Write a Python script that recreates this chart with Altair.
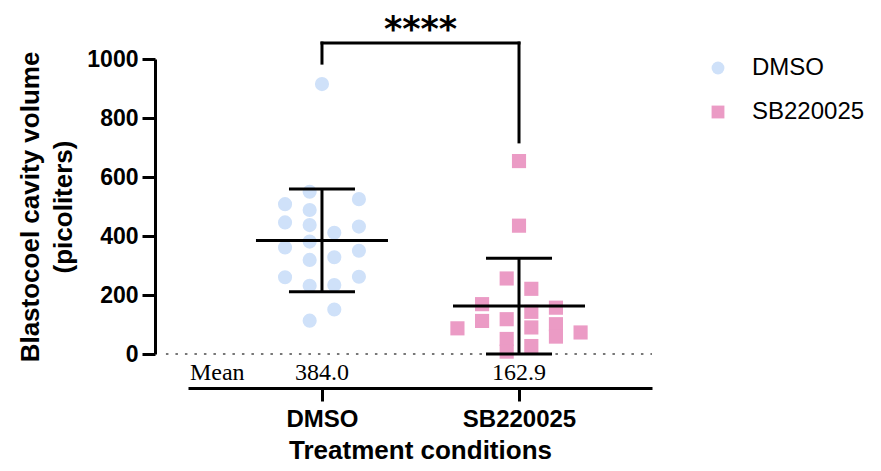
import altair as alt
import pandas as pd

# ---------------- data ----------------
groups = ["DMSO", "SB220025"]
group_pos = [1, 2]
dmso_values = [915, 508, 446, 361, 260, 550, 488, 437, 381, 319, 231, 113,
               411, 328, 234, 151, 525, 432, 350, 262]
dmso_slots = [0, -1.5, -1.5, -1.5, -1.5, -0.5, -0.5, -0.5, -0.5, -0.5, -0.5, -0.5,
              0.5, 0.5, 0.5, 0.5, 1.5, 1.5, 1.5, 1.5]
sb_values = [654, 435, 256, 118, 51, 8, 221, 143, 90, 27, 169, 112, 87,
             157, 101, 59, 73]
sb_slots = [0, 0, -0.5, -0.5, -0.5, -0.5, 0.5, 0.5, 0.5, 0.5, -1.5, -1.5, -2.5,
            1.5, 1.5, 1.5, 2.5]
mean_labels = ["384.0", "162.9"]
y_ticks = [0, 200, 400, 600, 800, 1000]
signif_label = "****"
y_title = ["Blastocoel cavity volume", "(picoliters)"]
x_title = "Treatment conditions"
colors = ["#cfe1f9", "#eb9bc5"]
shapes = ["circle", "square"]

# ---------------- layout constants ----------------
SLOT = 0.125           # beeswarm column spacing (x units)
X_DOM = [0.32, 2.675]
Y_DOM = [0, 1000]
SANS = "Liberation Sans"
SERIF = "Liberation Serif"

rows = []
for vals, slots, g, gx in [(dmso_values, dmso_slots, groups[0], group_pos[0]),
                           (sb_values, sb_slots, groups[1], group_pos[1])]:
    for v, s in zip(vals, slots):
        rows.append({"group": g, "gx": gx, "xpos": gx + s * SLOT, "value": v})
df = pd.DataFrame(rows)

xs = alt.Scale(domain=X_DOM, nice=False, zero=False)
ys = alt.Scale(domain=Y_DOM, nice=False, zero=False)

label_expr = " : ".join(
    [f"datum.value == {p} ? '{g}'" for p, g in zip(group_pos[:-1], groups[:-1])]
    + [f"'{groups[-1]}'"])

xaxis = alt.Axis(values=group_pos, labelExpr=label_expr, offset=34, grid=False,
                 domainColor="black", domainWidth=3, tickColor="black", tickWidth=3,
                 tickSize=13, labelFont=SANS, labelFontSize=24, labelFontWeight="bold",
                 labelColor="black", labelPadding=6, labelAngle=0,
                 titleFont=SANS, titleFontSize=26, titleFontWeight="bold",
                 titleColor="black", titlePadding=6)
yaxis = alt.Axis(values=y_ticks, format="d", offset=33, grid=False,
                 domainColor="black", domainWidth=3, tickColor="black", tickWidth=3,
                 tickSize=13, labelFont=SANS, labelFontSize=23, labelFontWeight="bold",
                 labelColor="black", labelPadding=4,
                 titleFont=SANS, titleFontSize=26, titleFontWeight="bold",
                 titleColor="black", titlePadding=10, titleLineHeight=33)


def X(field):
    return alt.X(field, scale=xs, axis=xaxis, title=x_title)


def Y(field):
    return alt.Y(field, scale=ys, axis=yaxis, title=y_title)


legend = alt.Legend(title=None, orient="none", legendX=518, legendY=-3,
                    labelFont=SANS, labelFontSize=24, labelColor="black",
                    symbolSize=165, symbolStrokeWidth=0, rowPadding=20,
                    labelOffset=22)

points = alt.Chart(df).mark_point(filled=True, opacity=1, size=200).encode(
    x=X("xpos:Q"),
    y=Y("value:Q"),
    color=alt.Color("group:N", scale=alt.Scale(domain=groups, range=colors), legend=legend),
    shape=alt.Shape("group:N", scale=alt.Scale(domain=groups, range=shapes), legend=legend),
)

stats = alt.Chart(df).transform_aggregate(
    mean="mean(value)", sd="stdev(value)", groupby=["group", "gx"]
).transform_calculate(
    lo="datum.mean - datum.sd", hi="datum.mean + datum.sd",
    cap_l="datum.gx - 0.1675", cap_r="datum.gx + 0.1675",
    m_l="datum.gx - 0.335", m_r="datum.gx + 0.335",
)

vbar = stats.mark_rule(color="black", strokeWidth=3).encode(
    x=X("gx:Q"), y=Y("lo:Q"), y2="hi:Q")
caps = stats.transform_fold(["lo", "hi"], as_=["which", "yv"]).mark_rule(
    color="black", strokeWidth=3).encode(x=X("cap_l:Q"), x2="cap_r:Q", y=Y("yv:Q"))
mline = stats.mark_rule(color="black", strokeWidth=3).encode(
    x=X("m_l:Q"), x2="m_r:Q", y=Y("mean:Q"))

# dotted zero line
zero_df = pd.DataFrame({"x": [0.208], "x2": [X_DOM[1]], "y": [0]})
zero = alt.Chart(zero_df).mark_rule(color="#777777", strokeWidth=2,
                                    strokeDash=[2.5, 7]).encode(
    x=X("x:Q"), x2="x2:Q", y=Y("y:Q"))

# significance bracket
top_y = 1054
bracket_df = pd.DataFrame({
    "x": [group_pos[0], group_pos[0], group_pos[1]],
    "x2": [group_pos[1], group_pos[0], group_pos[1]],
    "y": [top_y, top_y, top_y],
    "y2": [top_y, 986, 719],
})
bracket = alt.Chart(bracket_df).mark_rule(color="black", strokeWidth=3,
                                          strokeCap="square").encode(
    x=X("x:Q"), x2="x2:Q", y=Y("y:Q"), y2="y2:Q")

stars_df = pd.DataFrame({"x": [sum(group_pos) / 2], "y": [1100], "t": [signif_label]})
stars = alt.Chart(stars_df).mark_text(font="DejaVu Sans", fontSize=35, fontWeight="bold",
                                      baseline="middle", align="center",
                                      color="black").encode(
    x=X("x:Q"), y=Y("y:Q"), text="t:N")

# mean row
mean_y = -88
mean_df = pd.DataFrame({"x": group_pos, "y": [mean_y] * 2, "t": mean_labels})
means = alt.Chart(mean_df).mark_text(font=SERIF, fontSize=24, baseline="alphabetic",
                                     align="center", color="black").encode(
    x=X("x:Q"), y=Y("y:Q"), text="t:N")
mean_word_df = pd.DataFrame({"x": [X_DOM[0] + 0.01], "y": [mean_y], "t": ["Mean"]})
mean_word = alt.Chart(mean_word_df).mark_text(font=SERIF, fontSize=24,
                                              baseline="alphabetic", align="left",
                                              color="black").encode(
    x=X("x:Q"), y=Y("y:Q"), text="t:N")

chart = alt.layer(zero, points, vbar, caps, mline, bracket, stars, means, mean_word).properties(
    width=464, height=295,
    autosize=alt.AutoSizeParams(type="none"),
    padding={"left": 180, "top": 51, "right": 221, "bottom": 109},
).configure(background="white").configure_view(stroke=None)

chart.save("out.html", embed_options={"renderer": "svg", "actions": False})
